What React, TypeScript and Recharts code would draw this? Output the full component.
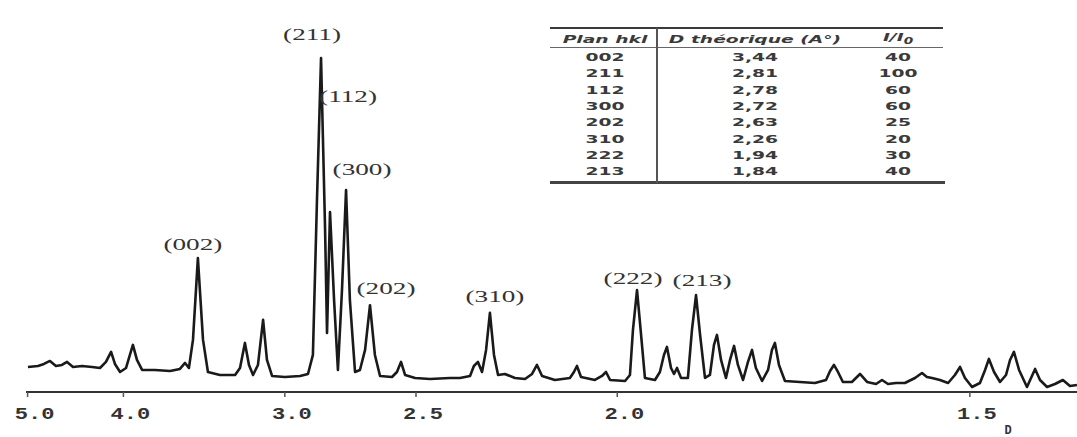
import React from 'react';
import { ComposedChart, Line, XAxis, YAxis, ReferenceDot } from 'recharts';

// X-ray wavelength (Cu K-alpha, Angstrom) used to place the d-spacing ticks on the 2-theta scale
const WAVELENGTH = 1.5406;

// Diffraction trace: 2-theta (degrees) and relative intensity
const TWO_THETA = [
  17.74, 18.21, 18.49, 18.77, 19.05, 19.33, 19.57, 19.85, 20.27, 20.74,
  21.11, 21.39, 21.63, 21.81, 22.05, 22.33, 22.51, 22.65, 22.84, 23.08,
  23.68, 24.39, 24.85, 25.09, 25.27, 25.46, 25.69, 25.93, 26.16, 26.72,
  27.43, 27.66, 27.89, 28.08, 28.27, 28.5, 28.74, 28.92, 29.16, 29.76,
  30.47, 30.84, 31.07, 31.26, 31.45, 31.64, 31.73, 31.87, 32.06, 32.24,
  32.43, 32.62, 32.8, 33.04, 33.27, 33.51, 33.74, 33.97, 34.21, 34.77,
  35.0, 35.19, 35.38, 35.85, 36.55, 37.48, 37.95, 38.42, 38.6, 38.79,
  38.98, 39.17, 39.35, 39.54, 39.73, 40.05, 40.52, 40.99, 41.32, 41.55,
  41.79, 42.39, 43.09, 43.28, 43.42, 43.61, 44.26, 44.59, 44.78, 44.97,
  45.67, 45.9, 46.04, 46.23, 46.42, 46.6, 47.07, 47.3, 47.49, 47.63,
  47.82, 47.96, 48.1, 48.29, 48.61, 48.8, 48.99, 49.18, 49.41, 49.64,
  49.83, 49.97, 50.16, 50.39, 50.58, 50.77, 50.95, 51.19, 51.42, 51.61,
  51.79, 52.08, 52.36, 52.54, 52.68, 52.87, 53.15, 53.85, 54.55, 55.07,
  55.26, 55.44, 55.63, 55.86, 56.28, 56.66, 56.99, 57.41, 57.69, 57.97,
  58.34, 58.76, 59.23, 59.56, 59.79, 60.03, 60.4, 60.78, 61.1, 61.34,
  61.57, 61.9, 62.27, 62.51, 62.69, 62.93, 63.21, 63.49, 63.68, 63.86,
  64.1, 64.47, 64.66, 64.85, 65.08, 65.41, 65.78, 66.15, 66.48, 66.81,
];
const INTENSITY = [
  7.5, 7.8, 8.4, 9.3, 7.8, 8.1, 9.0, 7.5, 7.8, 7.5,
  7.2, 9.0, 12.0, 8.4, 6.0, 7.2, 11.1, 14.1, 9.6, 6.6,
  6.6, 6.3, 6.9, 8.7, 7.2, 15.6, 40.1, 15.6, 6.0, 5.1,
  5.1, 7.2, 14.7, 8.1, 5.1, 8.1, 21.6, 9.6, 4.8, 4.5,
  4.8, 5.4, 11.1, 57.5, 100, 48.5, 17.7, 53.9, 27.5, 6.6,
  30.5, 60.5, 27.5, 6.0, 6.6, 12.6, 26.0, 11.1, 4.8, 4.5,
  6.0, 9.0, 5.1, 4.2, 3.9, 4.2, 4.2, 4.8, 7.8, 9.0,
  6.0, 12.6, 23.7, 11.1, 5.1, 5.4, 4.2, 3.9, 5.4, 8.1,
  4.8, 3.6, 4.2, 6.0, 7.8, 4.5, 3.6, 4.8, 6.0, 3.6,
  3.3, 5.1, 18.6, 30.5, 17.1, 4.2, 3.6, 6.0, 11.1, 13.5,
  7.2, 5.4, 7.2, 4.2, 4.2, 18.6, 29.0, 17.1, 4.2, 5.1,
  14.1, 17.1, 9.6, 4.2, 9.6, 13.8, 8.1, 3.6, 9.0, 12.6,
  7.2, 3.3, 6.6, 12.6, 14.7, 8.1, 3.3, 3.0, 2.7, 3.6,
  6.3, 8.1, 6.0, 3.0, 3.0, 5.4, 3.0, 2.4, 3.6, 2.4,
  2.7, 2.7, 4.2, 5.7, 4.5, 4.2, 3.6, 2.7, 5.1, 7.5,
  4.2, 1.5, 2.7, 6.6, 9.9, 6.0, 3.0, 5.1, 9.6, 12.0,
  6.6, 1.5, 4.2, 6.9, 3.6, 1.5, 2.4, 3.6, 1.8, 2.1,
];

// Axis: d-spacing tick labels (Angstrom)
const D_TICKS = [5.0, 4.0, 3.0, 2.5, 2.0, 1.5];
const D_TICK_LABELS = ['5.0', '4.0', '3.0', '2.5', '2.0', '1.5'];
const X_DOMAIN: [number, number] = [17.65, 66.81];
const Y_DOMAIN: [number, number] = [0, 115];

// Peak annotations
const PEAK_HKL = ['(002)', '(211)', '(112)', '(300)', '(202)', '(310)', '(222)', '(213)'];
const PEAK_TWO_THETA = [25.69, 31.45, 31.87, 32.62, 33.74, 39.35, 46.23, 48.99];
const PEAK_INTENSITY = [40.1, 100, 53.9, 60.5, 26.0, 23.7, 30.5, 29.0];

// Reference table
const TABLE_HKL = ['002', '211', '112', '300', '202', '310', '222', '213'];
const TABLE_D = ['3,44', '2,81', '2,78', '2,72', '2,63', '2,26', '1,94', '1,84'];
const TABLE_I = ['40', '100', '60', '60', '25', '20', '30', '40'];

// ---- styling / layout (not data) ----
const LABEL_DX = [-5, -9, 18, 16, 16, 5, -4, 6];
const LABEL_DY = [-13, -23, -115, -20, -17, -16, -12, -15];

const toTwoTheta = (d: number) => (2 * Math.asin(WAVELENGTH / (2 * d)) * 180) / Math.PI;
const TICKS = D_TICKS.map(toTwoTheta);

const DATA = TWO_THETA.map((t, i) => ({ tt: t, i: INTENSITY[i] }));

const DTick = (props: any) => {
  const { x, y, payload } = props;
  const idx = TICKS.findIndex((t) => Math.abs(t - payload.value) < 1e-6);
  const label = idx >= 0 ? D_TICK_LABELS[idx] : '';
  return (
    <text
      transform={`translate(${x + 7},${y + 20}) scale(1.3,1)`}
      textAnchor="middle"
      fontFamily="Liberation Mono"
      fontWeight="bold"
      fontSize={17}
      fill="#333"
    >
      {label}
    </text>
  );
};

const makePeakLabel = (k: number) => (p: any) => {
  const vb = p.viewBox || {};
  const cx = (vb.x ?? 0) + (vb.width ?? 0) / 2;
  const cy = (vb.y ?? 0) + (vb.height ?? 0) / 2;
  return (
    <text
      transform={`translate(${cx + LABEL_DX[k]},${cy + LABEL_DY[k]}) scale(1.7,1)`}
      textAnchor="middle"
      dominantBaseline="central"
      fontFamily="Liberation Serif"
      fontSize={16}
      fill="#333"
    >
      {PEAK_HKL[k]}
    </text>
  );
};

const cellStyle = (left: number, top: number, bold: boolean, italic: boolean): React.CSSProperties => ({
  position: 'absolute',
  left,
  top,
  transform: 'translate(-50%, -50%) scaleX(1.7)',
  fontFamily: 'DejaVu Sans',
  fontSize: 11,
  fontWeight: bold ? 700 : 400,
  fontStyle: italic ? 'italic' : 'normal',
  color: '#3a3a3a',
  whiteSpace: 'nowrap',
  lineHeight: '12px',
});

const COL_X = [605, 755, 898];

const Table = () => (
  <div style={{ position: 'absolute', left: 0, top: 0, width: 1077, height: 437, pointerEvents: 'none' }}>
    <div style={{ position: 'absolute', left: 550, top: 27, width: 393, height: 2, background: '#3a3a3a' }} />
    <div style={{ position: 'absolute', left: 550, top: 47, width: 393, height: 1, background: '#666' }} />
    <div style={{ position: 'absolute', left: 550, top: 181, width: 395, height: 3, background: '#444' }} />
    <div style={{ position: 'absolute', left: 656, top: 28, width: 1.5, height: 155, background: '#555' }} />
    <div style={cellStyle(COL_X[0], 40, true, true)}>Plan hkl</div>
    <div style={cellStyle(COL_X[1], 40, true, true)}>D théorique (A°)</div>
    <div style={cellStyle(COL_X[2], 40, true, true)}>
      I/I<sub style={{ fontSize: 8 }}>0</sub>
    </div>
    {TABLE_HKL.map((h, i) => (
      <React.Fragment key={h + i}>
        <div style={cellStyle(COL_X[0], 58 + i * 16.3, true, false)}>{h}</div>
        <div style={cellStyle(COL_X[1], 58 + i * 16.3, true, false)}>{TABLE_D[i]}</div>
        <div style={cellStyle(COL_X[2], 58 + i * 16.3, true, false)}>{TABLE_I[i]}</div>
      </React.Fragment>
    ))}
  </div>
);

export default function App() {
  return (
    <div style={{ position: 'absolute', left: 0, top: 0, width: 1077, height: 437, background: '#fff', overflow: 'hidden' }}>
      <ComposedChart width={1077} height={437} data={DATA} margin={{ top: 8, right: 0, bottom: 0, left: 26 }}>
        <XAxis
          type="number"
          dataKey="tt"
          domain={X_DOMAIN}
          allowDataOverflow
          ticks={TICKS}
          interval={0}
          tick={<DTick />}
          tickSize={5}
          height={45}
          axisLine={{ stroke: '#333', strokeWidth: 2 }}
          tickLine={{ stroke: '#555', strokeWidth: 1.5 }}
          label={{
            content: (p: any) => {
              const vb = p.viewBox || { x: 26, y: 392, width: 1051, height: 45 };
              return (
                <text
                  x={vb.x + vb.width - 69}
                  y={vb.y + 42}
                  textAnchor="middle"
                  fontFamily="Liberation Mono"
                  fontWeight="bold"
                  fontSize={12}
                  fill="#333"
                >
                  D
                </text>
              );
            },
          }}
        />
        <YAxis hide type="number" domain={Y_DOMAIN} allowDataOverflow />
        <Line
          dataKey="i"
          type="linear"
          stroke="#1a1a1a"
          strokeWidth={2.6}
          strokeLinejoin="round"
          dot={false}
          activeDot={false}
          isAnimationActive={false}
        />
        {PEAK_HKL.map((h, k) => (
          <ReferenceDot
            key={h}
            x={PEAK_TWO_THETA[k]}
            y={PEAK_INTENSITY[k]}
            r={0}
            fill="none"
            stroke="none"
            label={makePeakLabel(k)}
          />
        ))}
      </ComposedChart>
      <Table />
    </div>
  );
}
